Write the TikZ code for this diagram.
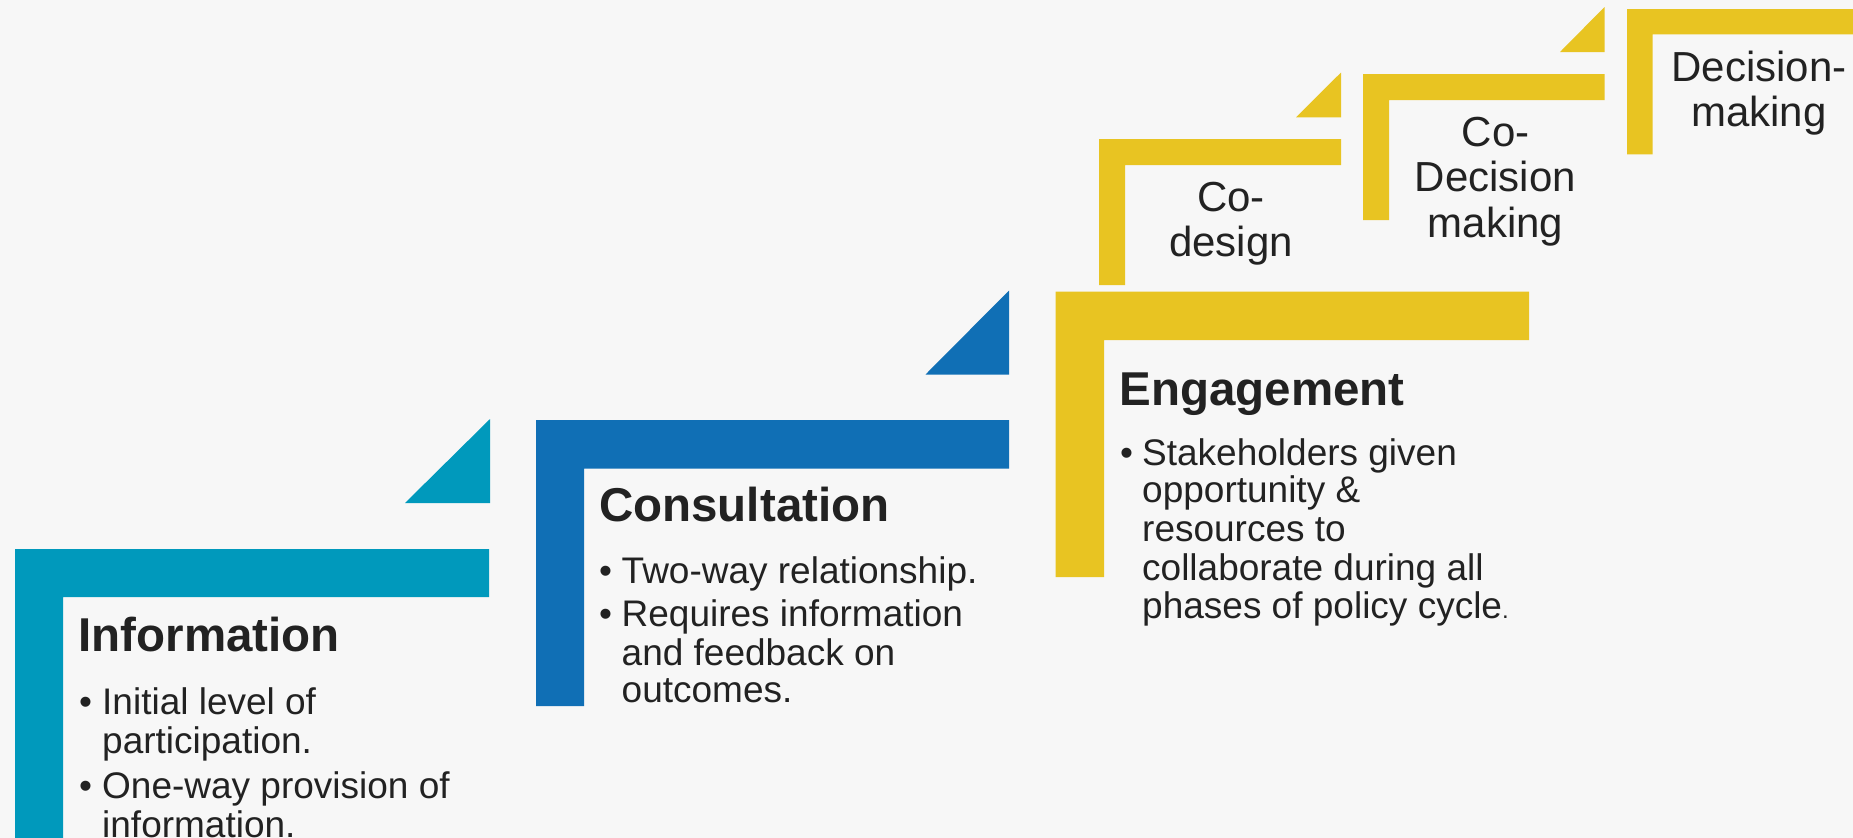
\documentclass[tikz,border=0pt]{standalone}
\usepackage{fontspec}
\setmainfont{Liberation Sans}
\definecolor{bgc}{HTML}{F7F7F7}
\definecolor{tealc}{HTML}{0099BC}
\definecolor{bluec}{HTML}{106FB5}
\definecolor{goldc}{HTML}{E8C422}
\definecolor{inkc}{HTML}{222222}
\begin{document}
\begin{tikzpicture}[x=1pt,y=-1pt,
  ttl/.style={anchor=base west, inner sep=0pt, text=inkc, font=\fontsize{47.5}{50}\selectfont\bfseries},
  bul/.style={anchor=base west, inner sep=0pt, text=inkc, font=\fontsize{37}{38}\selectfont},
  stp/.style={anchor=base, inner sep=0pt, text=inkc, font=\fontsize{42}{45}\selectfont},
  tealfill/.style={fill=tealc},
  bluefill/.style={fill=bluec},
  goldfill/.style={fill=goldc}]
\useasboundingbox (0,0) rectangle (1853,838);
\fill[bgc] (0,0) rectangle (1853,838);

% ---- Information (teal)
\fill[tealfill] (15,549) -- (489,549) -- (489,597) -- (63,597) -- (63,840) -- (15,840) -- cycle;
\fill[tealfill] (405,503) -- (490,503) -- (490,419) -- cycle;
\node[ttl] (infoT) at (78.5,651) {Information};
\node[bul] (infoB1) at (79,714) {•};
\node[bul] (infoL1) at (102,714) {Initial level of};
\node[bul] (infoL2) at (102,753) {participation.};
\node[bul] (infoB2) at (79,798) {•};
\node[bul] (infoL3) at (102,798) {One-way provision of};
\node[bul] (infoL4) at (102,837) {information.};

% ---- Consultation (blue)
\fill[bluefill] (536,420) -- (1009,420) -- (1009,468.5) -- (584,468.5) -- (584,706) -- (536,706) -- cycle;
\fill[bluefill] (925.5,374.5) -- (1009,374.5) -- (1009,290.5) -- cycle;
\node[ttl] (conT) at (599,521.7) {Consultation};
\node[bul] (conB1) at (599,583.3) {•};
\node[bul] (conL1) at (621.5,583.3) {Two-way relationship.};
\node[bul] (conB2) at (599,626.7) {•};
\node[bul] (conL2) at (621.5,626.7) {Requires information};
\node[bul] (conL3) at (621.5,665) {and feedback on};
\node[bul] (conL4) at (621.5,702.7) {outcomes.};

% ---- Engagement (gold)
\fill[goldfill] (1055.5,291.5) -- (1529,291.5) -- (1529,340) -- (1104,340) -- (1104,577) -- (1055.5,577) -- cycle;
\node[ttl] (engT) at (1119.5,405) {Engagement};
\node[bul] (engB1) at (1120,465) {•};
\node[bul] (engL1) at (1142,465) {Stakeholders given};
\node[bul] (engL2) at (1142,502.7) {opportunity \&};
\node[bul] (engL3) at (1142,541.7) {resources to};
\node[bul] (engL4) at (1142,580) {collaborate during all};
\node[bul] (engL5) at (1142,618.3) {phases of policy cycle{\fontsize{24}{24}\selectfont.}};

% ---- Co-design
\fill[goldfill] (1099,139) -- (1341,139) -- (1341,165) -- (1125,165) -- (1125,285) -- (1099,285) -- cycle;
\fill[goldfill] (1296,117.3) -- (1341,117.3) -- (1341,72.5) -- cycle;
\node[stp] (cd1) at (1231,211.7) {Co-};
\node[stp] (cd2) at (1231,256.7) {design};

% ---- Co-Decision making
\fill[goldfill] (1363,74) -- (1604.5,74) -- (1604.5,100) -- (1389,100) -- (1389,220) -- (1363,220) -- cycle;
\fill[goldfill] (1560,52) -- (1604.5,52) -- (1604.5,7) -- cycle;
\node[stp] (cdm1) at (1495.5,146.7) {Co-};
\node[stp] (cdm2) at (1495.5,191.7) {Decision};
\node[stp] (cdm3) at (1495.5,237) {making};

% ---- Decision-making
\fill[goldfill] (1627,9) -- (1870,9) -- (1870,34.3) -- (1652.7,34.3) -- (1652.7,154.3) -- (1627,154.3) -- cycle;
\node[stp] (dm1) at (1759,81.7) {Decision-};
\node[stp] (dm2) at (1759,126.5) {making};
\end{tikzpicture}
\end{document}
